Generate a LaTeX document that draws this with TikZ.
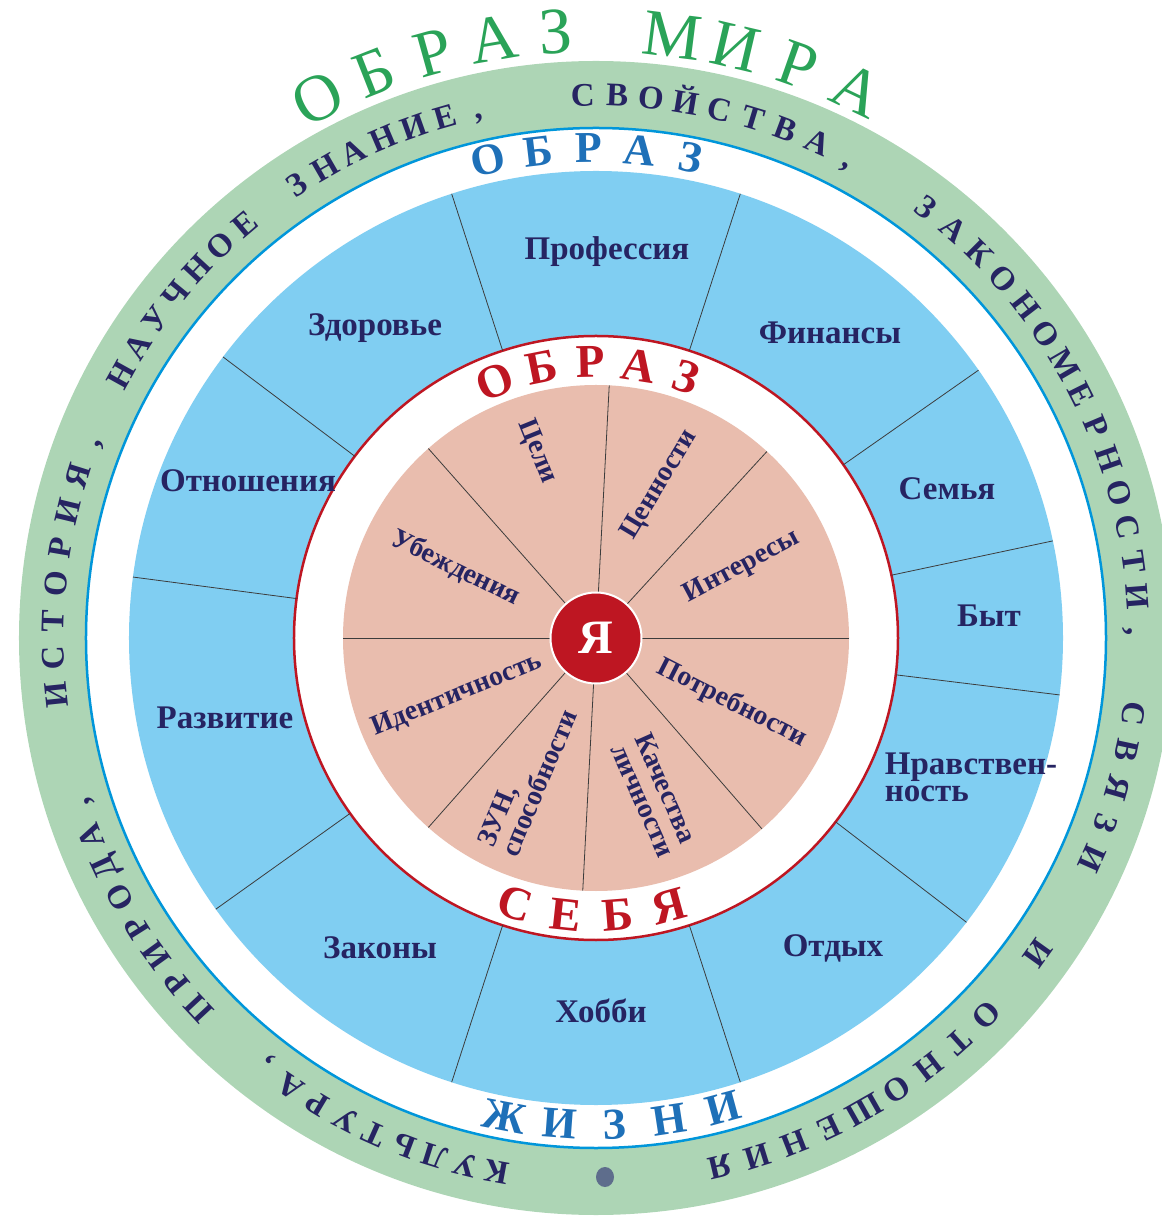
\documentclass[tikz,border=0pt]{standalone}
\usepackage{fontspec}
\setmainfont{Liberation Serif}
\definecolor{ringgreen}{RGB}{173,213,181}
\definecolor{edgeblue}{RGB}{0,150,218}
\definecolor{skyblue}{RGB}{128,206,242}
\definecolor{lifeblue}{RGB}{30,112,184}
\definecolor{worldgreen}{RGB}{42,163,88}
\definecolor{navy}{RGB}{38,36,98}
\definecolor{selfred}{RGB}{190,22,34}
\definecolor{corepink}{RGB}{233,189,174}
\definecolor{dotgray}{RGB}{94,109,140}
\definecolor{linegray}{RGB}{60,60,60}

\newcommand{\ringword}[7]{%
  \foreach \ch [count=\k from 0] in {#7}{%
    \pgfmathsetmacro{\ang}{#2+(#3)*\k}%
    \node[#5, rotate=\ang+(#4)] (#6\k) at (\ang:#1) {\ch};
  }%
}

\begin{document}
\begin{tikzpicture}[x=1pt,y=1pt,
    divider/.style={draw=linegray, line width=0.8pt},
    ringlabel/.style={text=navy, font=\bfseries\fontsize{33}{27}\selectfont, align=left, inner sep=0pt},
    corelabel/.style={text=navy, font=\bfseries\fontsize{28}{26}\selectfont, align=left, inner sep=0pt},
    worldletter/.style={text=navy, inner sep=0pt, text height=22pt, text depth=0pt, font=\bfseries\fontsize{33}{33}\selectfont},
    lifeletter/.style={text=lifeblue, inner sep=0pt, text height=29pt, text depth=0pt, font=\bfseries\fontsize{44}{44}\selectfont},
    selfletter/.style={text=selfred, inner sep=0pt, text height=31pt, text depth=0pt, font=\bfseries\fontsize{47}{47}\selectfont},
    titleletter/.style={text=worldgreen, inner sep=0pt, text height=43pt, text depth=0pt, font=\fontsize{66}{66}\selectfont}
  ]
  \useasboundingbox (-596,-579) rectangle (565,638);

  \fill[ringgreen] (0,0) circle (577);
  \fill[white] (0,0) circle (510);
  \draw[edgeblue, line width=2.5pt] (0,0) circle (510);
  \fill[skyblue] (0,0) circle (467);
  \fill[white] (0,0) circle (302);
  \draw[selfred, line width=2.5pt] (0,0) circle (302);
  \fill[corepink] (0,0) circle (253);

  \foreach \a in {108,72,35,12,-7,-37.5,-72,-108,-144.5,172.5,143}
    \draw[divider] (\a:302) -- (\a:467);
  \foreach \a in {87,47.5,0,-49,-93,-131.5,180,131.5}
    \draw[divider] (\a:45) -- (\a:253);

  \node[circle, fill=selfred, draw=white, line width=2pt, minimum size=91pt, inner sep=0pt,
        text=white, font=\bfseries\fontsize{48}{48}\selectfont] (ya) at (0,0) {Я};

  % sectors of life
  \node[ringlabel] (prof) at (11,386) {Профессия};
  \node[ringlabel] (health) at (-221,310) {Здоровье};
  \node[ringlabel] (money) at (234,305) {Финансы};
  \node[ringlabel] (relations) at (-348,157) {Отношения};
  \node[ringlabel] (family) at (351,149) {Семья};
  \node[ringlabel] (home) at (393,22) {Быт};
  \node[ringlabel] (growth) at (-371,-80) {Развитие};
  \node[ringlabel] (moral) at (375,-139) {Нравствен-\\ность};
  \node[ringlabel] (laws) at (-216,-310) {Законы};
  \node[ringlabel] (hobby) at (5,-373) {Хобби};
  \node[ringlabel] (rest) at (237,-310) {Отдых};

  % sectors of self
  \node[corelabel, rotate=-68] (goals) at (-59,186) {Цели};
  \node[corelabel, rotate=59] (values) at (64,153) {Ценности};
  \node[corelabel, rotate=28] (interests) at (146,71) {Интересы};
  \node[corelabel, rotate=-27] (needs) at (136,-65) {Потребности};
  \node[corelabel, rotate=-66] (traits) at (59,-157) {Качества\\личности};
  \node[corelabel, rotate=67] (skills) at (-69,-140) {ЗУН,\\способности};
  \node[corelabel, rotate=22] (identity) at (-139,-57) {Идентичность};
  \node[corelabel, rotate=-26] (beliefs) at (-140,70) {Убеждения};

  % ring texts
  \ringword{276}{111.4}{-10.1}{-90}{selfletter}{os}{О,Б,Р,А,З}
  \ringword{278}{253.1}{10.7}{90}{selfletter}{se}{С,Е,Б,Я}
  \ringword{490}{102.7}{-5.95}{-90}{lifeletter}{ob}{О,Б,Р,А,З}
  \ringword{487}{259.2}{6.5}{90}{lifeletter}{zh}{Ж,И,З,Н,И}
  \ringword{607}{117.3}{-5.87}{-90}{titleletter}{ti}{О,Б,Р,А,З}
  \ringword{607}{82.8}{-6.1}{-90}{titleletter}{tm}{М,И,Р,А}

  \ringword{543}{259.5}{-3.4}{-90}{worldletter}{ku}{К,У,Л,Ь,Т,У,Р,А,{,}}
  \ringword{543}{223}{-3.6}{-90}{worldletter}{pr}{П,Р,И,Р,О,Д,А,{,}}
  \ringword{543}{186}{-3.9}{-90}{worldletter}{is}{И,С,Т,О,Р,И,Я,{,}}
  \ringword{543}{151}{-3.45}{-90}{worldletter}{na}{Н,А,У,Ч,Н,О,Е}
  \ringword{543}{123.4}{-3.45}{-90}{worldletter}{zn}{З,Н,А,Н,И,Е,{,}}
  \ringword{543}{91.4}{-3.65}{-90}{worldletter}{sv}{С,В,О,Й,С,Т,В,А,{,}}
  \ringword{543}{52.5}{-3.7}{-90}{worldletter}{za}{З,А,К,О,Н,О,М,Е,Р,Н,О,С,Т,И,{,}}
  \ringword{543}{-8}{-4}{-90}{worldletter}{sz}{С,В,Я,З,И}
  \ringword{543}{-35.5}{0}{-90}{worldletter}{ii}{И}
  \ringword{543}{-44}{-4.1}{-90}{worldletter}{ot}{О,Т,Н,О,Ш,Е,Н,И,Я}

  \fill[dotgray] (9,-539) ellipse (9 and 10);
\end{tikzpicture}
\end{document}
